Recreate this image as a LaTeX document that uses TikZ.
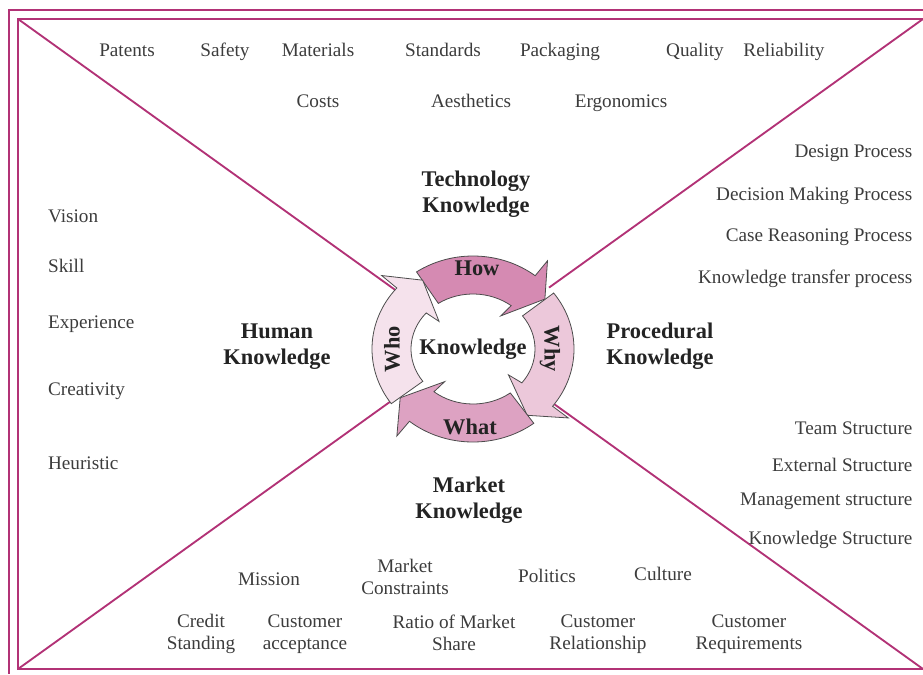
\documentclass[tikz,border=0pt]{standalone}
\usepackage{fontspec}
\setmainfont{Liberation Serif}
\definecolor{framepink}{RGB}{178,50,118}
\definecolor{howpink}{RGB}{213,138,178}
\definecolor{whypink}{RGB}{236,200,218}
\definecolor{whatpink}{RGB}{221,162,194}
\definecolor{whopink}{RGB}{245,226,236}
\definecolor{itemgray}{RGB}{60,60,60}
\definecolor{headgray}{RGB}{35,35,35}
\tikzset{
  item/.style={text=itemgray, inner sep=1pt, text height=10pt, text depth=1pt,
    font=\fontsize{14.4}{16.5}\selectfont},
  itemtwo/.style={text=itemgray, align=center, inner sep=1pt,
    font=\fontsize{14.4}{16.5}\selectfont},
  head/.style={text=headgray, align=center, inner sep=1pt,
    font=\fontsize{16.8}{19.5}\selectfont\bfseries},
  frameline/.style={draw=framepink, line width=1.4pt},
}
\begin{document}
\begin{tikzpicture}[x=0.75pt,y=-0.75pt]
  \useasboundingbox (0,0) rectangle (923,674);
  \clip (0,0) rectangle (923,674);

  % frame and diagonals
  \coordinate (tl) at (18,19);
  \coordinate (tr) at (923,19);
  \coordinate (bl) at (18,669);
  \coordinate (br) at (923,669);
  \draw[frameline] (923,10) -- (9,10) -- (9,674);
  \draw[frameline] (tr) -- (tl) -- (bl) -- (br);
  \draw[frameline] (tl) -- (br);
  \draw[frameline] (tr) -- (bl);

  % knowledge cycle
  \coordinate (ctr) at (473,349);
  \begin{scope}[shift={(ctr)}, y=0.75pt]
    \fill[white] (0,0) ellipse[x radius=101, y radius=93];
    \foreach \s/\e/\c in {124/52/howpink, 37/-38/whypink, -53/-129/whatpink, -144/-221/whopink}{
      \draw[fill=\c, draw=black!70, line width=0.6pt, line join=miter]
        (\s:101 and 93) arc[start angle=\s, end angle=\e, x radius=101, y radius=93]
        -- (\e:121 and 112) -- ({\e-15}:90 and 83) -- (\e:45 and 42)
        -- (\e:62 and 55) arc[start angle=\e, end angle=\s, x radius=62, y radius=55]
        -- cycle;
    }
  \end{scope}
  \node[head] (how) at (477,268) {How};
  \node[head, rotate=-90] (why) at (550,349) {Why};
  \node[head] (what) at (470,427) {What};
  \node[head, rotate=90] (who) at (392,349) {Who};
  \node[head] (knowledge) at (473,349) {Knowledge};

  % technology
  \node[item] (patents) at (127,51) {Patents};
  \node[item] (safety) at (225,51) {Safety};
  \node[item] (materials) at (318,51) {Materials};
  \node[item] (standards) at (443,51) {Standards};
  \node[item] (packaging) at (560,51) {Packaging};
  \node[item] (quality) at (695,51) {Quality};
  \node[item] (reliability) at (784,51) {Reliability};
  \node[item] (costs) at (318,101) {Costs};
  \node[item] (aesthetics) at (471,101) {Aesthetics};
  \node[item] (ergonomics) at (621,101) {Ergonomics};
  \node[head] (techknow) at (476,194) {Technology\\Knowledge};

  % procedural
  \node[item, anchor=east] (design) at (914,151) {Design Process};
  \node[item, anchor=east] (decision) at (914,194) {Decision Making Process};
  \node[item, anchor=east] (casereason) at (914,235) {Case Reasoning Process};
  \node[item, anchor=east] (transfer) at (914,277) {Knowledge transfer process};
  \node[head] (procknow) at (660,346) {Procedural\\Knowledge};
  \node[item, anchor=east] (team) at (914,428) {Team Structure};
  \node[item, anchor=east] (external) at (914,465) {External Structure};
  \node[item, anchor=east] (management) at (914,499) {Management structure};
  \node[item, anchor=east] (knowstruct) at (914,538) {Knowledge Structure};

  % human
  \node[item, anchor=west] (vision) at (46.5,216) {Vision};
  \node[item, anchor=west] (skill) at (46.5,266) {Skill};
  \node[item, anchor=west] (experience) at (46.5,322) {Experience};
  \node[item, anchor=west] (creativity) at (46.5,389) {Creativity};
  \node[item, anchor=west] (heuristic) at (46.5,463) {Heuristic};
  \node[head] (humanknow) at (277,347) {Human\\Knowledge};

  % market
  \node[head] (marketknow) at (469,500) {Market\\Knowledge};
  \node[item] (mission) at (269,579) {Mission};
  \node[itemtwo] (constraints) at (405,577) {Market\\Constraints};
  \node[item] (politics) at (547,576) {Politics};
  \node[item] (culture) at (663,574) {Culture};
  \node[itemtwo] (credit) at (201,634) {Credit\\Standing};
  \node[itemtwo] (acceptance) at (305,634) {Customer\\acceptance};
  \node[itemtwo] (ratio) at (454,633) {Ratio of Market\\Share};
  \node[itemtwo] (relationship) at (598,634) {Customer\\Relationship};
  \node[itemtwo] (requirements) at (749,634) {Customer\\Requirements};
\end{tikzpicture}
\end{document}
